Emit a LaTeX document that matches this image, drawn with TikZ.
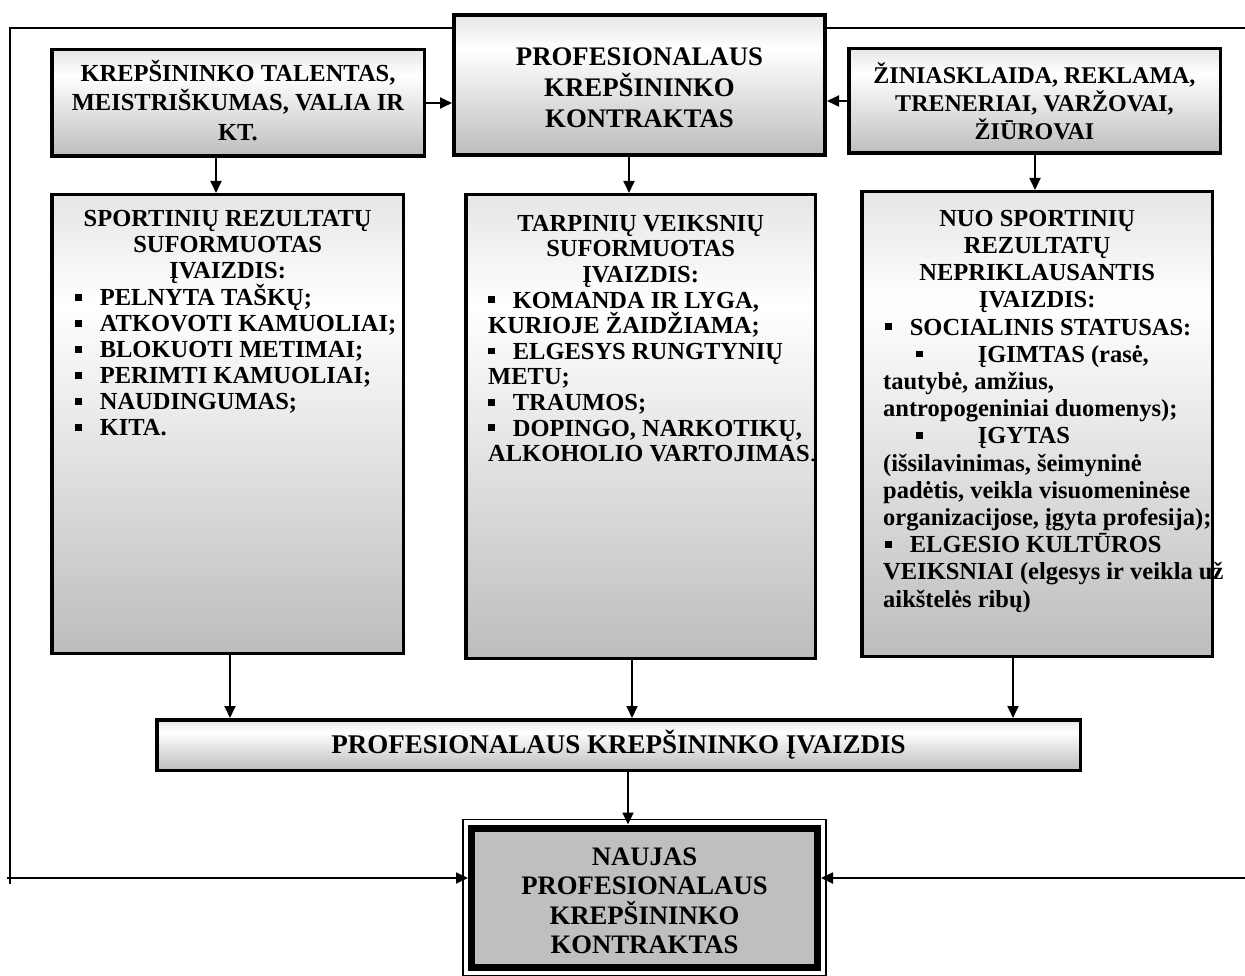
\documentclass[tikz,border=0pt]{standalone}
\usepackage{fontspec}
\setmainfont{Liberation Serif}
\usetikzlibrary{arrows.meta,calc}

\definecolor{shadebot}{gray}{0.74}
\definecolor{shadetop}{gray}{0.90}
\definecolor{solidgray}{gray}{0.75}
% light at the top, white near the upper quarter, grey towards the bottom
\pgfdeclareverticalshading{boxgrad}{100bp}{color(0bp)=(shadebot); color(25bp)=(shadebot); color(63bp)=(white); color(75bp)=(shadetop); color(100bp)=(shadetop)}

% small square list bullet
\newcommand\sqb{\rule[0.2em]{0.27em}{0.27em}}

\tikzset{
  gbox/.style={draw, line width=3.5pt, shade, shading=boxgrad, inner sep=0pt, align=center},
  listtext/.style={anchor=north west, inner sep=0pt, align=left},
  arr/.style={line width=1.8pt, -{Triangle[length=12pt,width=11pt]}},
  frameline/.style={line width=1.8pt},
  topfont/.style={font=\fontsize{24.5pt}{29.5pt}\selectfont\bfseries},
  bigfont/.style={font=\fontsize{26.8pt}{31pt}\selectfont\bfseries},
}

\begin{document}
\begin{tikzpicture}[x=1pt,y=-1pt]
\useasboundingbox (0,0) rectangle (1245,976);

% top row
\node[gbox, topfont, minimum width=372.5pt, minimum height=106.5pt] (talent) at (238,103)
  {KREPŠININKO TALENTAS,\\MEISTRIŠKUMAS, VALIA IR\\KT.\rule[-6pt]{0pt}{6pt}};
\node[gbox, bigfont, line width=4pt, minimum width=371pt, minimum height=140pt] (contract) at (639.5,85)
  {\rule{0pt}{24pt}PROFESIONALAUS\\KREPŠININKO\\KONTRAKTAS};
\node[gbox, font=\fontsize{24pt}{28pt}\selectfont\bfseries, minimum width=371.5pt, minimum height=104.5pt] (media) at (1034.5,101)
  {ŽINIASKLAIDA, REKLAMA,\\TRENERIAI, VARŽOVAI,\\ŽIŪROVAI};

% middle row: three image boxes
\node[gbox, minimum width=351.5pt, minimum height=458.5pt] (sport) at (227.5,424) {};
\node[gbox, minimum width=349.5pt, minimum height=463.5pt] (inter) at (640.5,426.5) {};
\node[gbox, minimum width=350.5pt, minimum height=464.5pt] (indep) at (1037,424) {};

\node[listtext, font=\fontsize{24.5pt}{26pt}\selectfont\bfseries] (sporttxt) at (75,206) {%
  \rule{0pt}{20pt}\makebox[305pt][c]{SPORTINIŲ REZULTATŲ}\\
  \makebox[305pt][c]{SUFORMUOTAS}\\
  \makebox[305pt][c]{ĮVAIZDIS:}\\
  \sqb\hspace{18pt}PELNYTA TAŠKŲ;\\
  \sqb\hspace{18pt}ATKOVOTI KAMUOLIAI;\\
  \sqb\hspace{18pt}BLOKUOTI METIMAI;\\
  \sqb\hspace{18pt}PERIMTI KAMUOLIAI;\\
  \sqb\hspace{18pt}NAUDINGUMAS;\\
  \sqb\hspace{18pt}KITA.};

\node[listtext, font=\fontsize{24.5pt}{25.6pt}\selectfont\bfseries] (intertxt) at (488,211) {%
  \rule{0pt}{20pt}\makebox[305pt][c]{TARPINIŲ VEIKSNIŲ}\\
  \makebox[305pt][c]{SUFORMUOTAS}\\
  \makebox[305pt][c]{ĮVAIZDIS:}\\
  \sqb\hspace{18pt}KOMANDA IR LYGA,\\
  KURIOJE ŽAIDŽIAMA;\\
  \sqb\hspace{18pt}ELGESYS RUNGTYNIŲ\\
  METU;\\
  \sqb\hspace{18pt}TRAUMOS;\\
  \sqb\hspace{18pt}DOPINGO, NARKOTIKŲ,\\
  ALKOHOLIO VARTOJIMAS{\mdseries .}};

\node[listtext, font=\fontsize{24.5pt}{27.2pt}\selectfont\bfseries] (indeptxt) at (883,206) {%
  \rule{0pt}{20pt}\makebox[308pt][c]{NUO SPORTINIŲ}\\
  \makebox[308pt][c]{REZULTATŲ}\\
  \makebox[308pt][c]{NEPRIKLAUSANTIS}\\
  \makebox[308pt][c]{ĮVAIZDIS:}\\
  \hspace*{2pt}\sqb\hspace{18pt}SOCIALINIS STATUSAS:\\
  \hspace*{33pt}\sqb\hspace{55pt}ĮGIMTAS (rasė,\\
  tautybė, amžius,\\
  antropogeniniai duomenys);\\
  \hspace*{33pt}\sqb\hspace{55pt}ĮGYTAS\\
  (išsilavinimas, šeimyninė\\
  padėtis, veikla visuomeninėse\\
  organizacijose, įgyta profesija);\\
  \hspace*{2pt}\sqb\hspace{18pt}ELGESIO KULTŪROS\\
  VEIKSNIAI (elgesys ir veikla už\\
  aikštelės ribų)};

% combined image bar
\node[gbox, font=\fontsize{27pt}{30pt}\selectfont\bfseries, minimum width=923.5pt, minimum height=50.5pt] (bar) at (618.5,745)
  {PROFESIONALAUS KREPŠININKO ĮVAIZDIS};

% new contract, thick border inside a thin one
\node[draw, line width=7pt, fill=solidgray, inner sep=0pt, align=center,
      font=\fontsize{26.7pt}{29.5pt}\selectfont\bfseries,
      minimum width=346pt, minimum height=139pt] (newc) at (644.5,897.5)
  {\rule{0pt}{24pt}NAUJAS\\PROFESIONALAUS\\KREPŠININKO\\KONTRAKTAS};
\draw[line width=1.5pt] ([shift={(-5,-5)}]newc.north west) rectangle ([shift={(5,5)}]newc.south east);

% connector positions
\coordinate (ax1) at (216,0);
\coordinate (ax2) at (629,0);
\coordinate (ax3) at (1035,0);
\coordinate (bx1) at (230,0);
\coordinate (bx2) at (632,0);
\coordinate (bx3) at (1013,0);
\coordinate (cx) at (628,0);

% inputs of the contract
\draw[arr] (talent.east) -- (talent.east -| contract.west);
\draw[arr] (media.west) -- (media.west -| contract.east);

% top row to image boxes
\draw[arr] (talent.south -| ax1) -- (sport.north -| ax1);
\draw[arr] (contract.south -| ax2) -- (inter.north -| ax2);
\draw[arr] (media.south -| ax3) -- (indep.north -| ax3);

% image boxes to the combined image
\draw[arr] (sport.south -| bx1) -- (bar.north -| bx1);
\draw[arr] (inter.south -| bx2) -- (bar.north -| bx2);
\draw[arr] (indep.south -| bx3) -- (bar.north -| bx3);

% combined image to the new contract
\draw[arr] (bar.south -| cx) -- (newc.north -| cx);

% outer loop around the diagram
\coordinate (tl) at (10,28);
\coordinate (bl) at (10,884);
\coordinate (ls) at (7,878);
\coordinate (tr) at (1252,28);
\coordinate (br) at (1252,878);
\draw[frameline] (contract.west |- tl) -- (tl) -- (bl);
\draw[arr] (ls) -- (ls -| newc.west);
\draw[frameline] (contract.east |- tr) -- (tr) -- (br);
\draw[arr] (br) -- (br -| newc.east);
\end{tikzpicture}
\end{document}
